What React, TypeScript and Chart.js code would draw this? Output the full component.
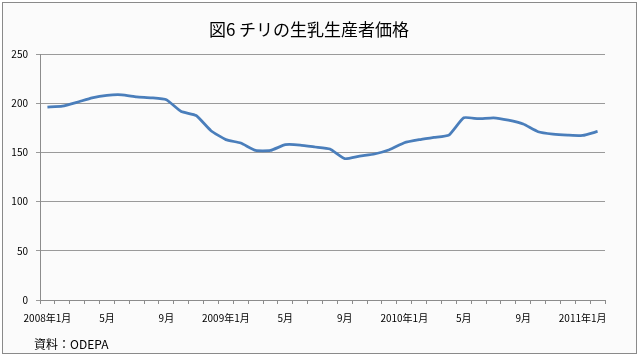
import { useEffect, useRef } from "react";
import { Chart, registerables } from "chart.js";

Chart.register(...registerables);

const TITLE = "図6 チリの生乳生産者価格";
const SOURCE = "資料：ODEPA";

const months = [
  "2008年1月", "2月", "3月", "4月", "5月", "6月", "7月", "8月", "9月", "10月", "11月", "12月",
  "2009年1月", "2月", "3月", "4月", "5月", "6月", "7月", "8月", "9月", "10月", "11月", "12月",
  "2010年1月", "2月", "3月", "4月", "5月", "6月", "7月", "8月", "9月", "10月", "11月", "12月",
  "2011年1月", "2月",
];

const prices = [
  196, 197, 201, 205.5, 208, 208.5, 206.5, 205.5, 203.5, 191.5, 187.5, 172,
  163, 159.5, 152, 152, 157.8, 157.5, 155.5, 153.4, 143.6, 146.3, 148.4, 152.7,
  159.8, 162.9, 165.2, 167.6, 185.2, 184.2, 185.2, 182.8, 178.8, 171, 168.6, 167.6,
  167.2, 171.3,
];

const Y_MIN = 0;
const Y_MAX = 250;
const Y_STEP = 50;
const LABEL_EVERY = 4;

const FONT = '"Noto Sans CJK JP", "Noto Sans", sans-serif';

export default function App() {
  const ref = useRef<HTMLCanvasElement | null>(null);

  useEffect(() => {
    document.body.style.margin = "0";
    const canvas = ref.current;
    if (!canvas) return;

    const frame = {
      id: "frame",
      beforeDraw(chart: any) {
        const c = chart.ctx;
        c.save();
        c.fillStyle = "#ffffff";
        c.fillRect(0, 0, chart.width, chart.height);
        c.fillStyle = "#fbfbfb";
        c.fillRect(2, 2, 635, 352);
        c.strokeStyle = "#8a8a8a";
        c.lineWidth = 1;
        c.strokeRect(2.5, 2.5, 634, 351);
        c.restore();
      },
      afterDraw(chart: any) {
        const c = chart.ctx;
        c.save();
        c.fillStyle = "#000000";
        c.textAlign = "center";
        c.textBaseline = "middle";
        c.font = `17px ${FONT}`;
        c.fillText(TITLE, 309, 30);
        c.textAlign = "left";
        c.font = `12px ${FONT}`;
        c.fillText(SOURCE, 34, 344);
        c.restore();
      },
    };

    const chart = new Chart(canvas, {
      type: "line",
      data: {
        labels: months,
        datasets: [
          {
            data: prices,
            borderColor: "#4a7ebb",
            borderWidth: 2.75,
            pointRadius: 0,
            tension: 0.15,
            fill: false,
          },
        ],
      },
      options: {
        responsive: false,
        animation: false,
        devicePixelRatio: 1,
        layout: { padding: { left: 0, top: 54, right: 35, bottom: 0 } },
        plugins: {
          legend: { display: false },
          title: { display: false },
          tooltip: { enabled: false },
        },
        scales: {
          x: {
            type: "category",
            offset: true,
            afterFit(scale: any) {
              scale.height = 59;
            },
            grid: {
              offset: true,
              drawOnChartArea: false,
              drawTicks: true,
              tickLength: 4,
              color: "#8c8c8c",
            },
            border: { display: true, color: "#8c8c8c", width: 1 },
            ticks: {
              autoSkip: false,
              maxRotation: 0,
              minRotation: 0,
              padding: 8,
              color: "#000000",
              font: { family: FONT, size: 10 },
              callback: (_v: any, i: number) => (i % LABEL_EVERY === 0 ? months[i] : ""),
            },
          },
          y: {
            min: Y_MIN,
            max: Y_MAX,
            afterFit(scale: any) {
              scale.width = 40;
            },
            grid: {
              color: "#9a9a9a",
              tickLength: 4,
              drawTicks: true,
            },
            border: { display: true, color: "#8c8c8c", width: 1 },
            ticks: {
              stepSize: Y_STEP,
              padding: 8,
              color: "#000000",
              font: { family: FONT, size: 10 },
            },
          },
        },
      },
      plugins: [frame],
    } as any);

    return () => chart.destroy();
  }, []);

  return (
    <div style={{ width: 640, height: 359 }}>
      <canvas ref={ref} width={640} height={359} style={{ display: "block" }} />
    </div>
  );
}
